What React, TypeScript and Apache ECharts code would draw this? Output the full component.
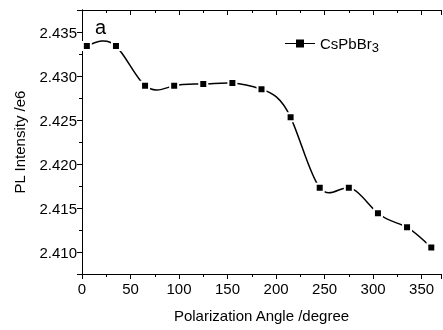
import React, { useEffect, useRef } from "react";
import * as echarts from "echarts";

const angles = [5, 35, 65, 95, 125, 155, 185, 215, 245, 275, 305, 335, 360];
const intensity = [2.4334, 2.4334, 2.4289, 2.4289, 2.4291, 2.4292, 2.4285, 2.4253, 2.4173, 2.4173, 2.4144, 2.4128, 2.4105];
const seriesName = "CsPbBr3";
const panelLabel = "a";
const xName = "Polarization Angle /degree";
const yName = "PL Intensity /e6";

const FONT = "Liberation Sans, Arial, sans-serif";

// natural cubic spline slopes in pixel space (rendering helper only)
function splineSlopes(xs: number[], ys: number[]): number[] {
  const n = xs.length;
  const h: number[] = [];
  for (let i = 0; i < n - 1; i++) h.push(xs[i + 1] - xs[i]);
  const M = new Array(n).fill(0);
  if (n > 2) {
    const a: number[] = [], b: number[] = [], c: number[] = [], d: number[] = [];
    for (let i = 1; i < n - 1; i++) {
      a.push(h[i - 1]);
      b.push(2 * (h[i - 1] + h[i]));
      c.push(h[i]);
      d.push(6 * ((ys[i + 1] - ys[i]) / h[i] - (ys[i] - ys[i - 1]) / h[i - 1]));
    }
    const m = b.length;
    for (let i = 1; i < m; i++) {
      const w = a[i] / b[i - 1];
      b[i] -= w * c[i - 1];
      d[i] -= w * d[i - 1];
    }
    const sol = new Array(m).fill(0);
    sol[m - 1] = d[m - 1] / b[m - 1];
    for (let i = m - 2; i >= 0; i--) sol[i] = (d[i] - c[i] * sol[i + 1]) / b[i];
    for (let i = 0; i < m; i++) M[i + 1] = sol[i];
  }
  const slopes: number[] = [];
  for (let i = 0; i < n; i++) {
    if (i < n - 1) slopes.push((ys[i + 1] - ys[i]) / h[i] - (h[i] * (2 * M[i] + M[i + 1])) / 6);
    else slopes.push((ys[i] - ys[i - 1]) / h[i - 1] + (h[i - 1] * (M[i - 1] + 2 * M[i])) / 6);
  }
  return slopes;
}

export default function App() {
  const ref = useRef<HTMLDivElement>(null);
  useEffect(() => {
    if (!ref.current) return;
    const chart = echarts.init(ref.current, undefined, { renderer: "svg" });
    const axisLine = { show: true, lineStyle: { color: "#000", width: 1 } };
    const xCommon = { type: "value" as const, min: 0, max: 370, interval: 50 };
    const n = angles.length;
    chart.setOption({
      animation: false,
      textStyle: { fontFamily: FONT },
      grid: { left: 82, right: 2, top: 10, bottom: 56 },
      legend: {
        data: [{ name: seriesName, icon: "path://M0,3.4h11v1.2h-11z M11,0h8v8h-8z M19,3.4h11v1.2h-11z" }],
        left: 280,
        top: 31,
        itemWidth: 30,
        itemHeight: 8,
        itemGap: 4,
        formatter: () => "CsPbBr{sub|3}",
        textStyle: {
          fontFamily: FONT,
          fontSize: 15,
          color: "#000",
          rich: { sub: { fontSize: 13, verticalAlign: "bottom", padding: [8, 0, 0, 0], fontFamily: FONT, color: "#000" } },
        },
      },
      graphic: [
        { type: "text", left: 95, top: 17, style: { text: panelLabel, fontSize: 20, fontFamily: FONT, fill: "#000" } },
      ],
      xAxis: [
        {
          ...xCommon,
          position: "bottom",
          name: xName,
          nameLocation: "middle",
          nameGap: 34,
          nameTextStyle: { fontSize: 15, color: "#000", fontFamily: FONT },
          axisLine,
          axisTick: { show: true, inside: false, length: 5, lineStyle: { color: "#000" } },
          minorTick: { show: true, splitNumber: 2, length: 3, lineStyle: { color: "#000" } },
          axisLabel: { fontSize: 15, color: "#000", margin: 7, fontFamily: FONT, showMaxLabel: false },
          splitLine: { show: false },
        },
        {
          ...xCommon,
          position: "top",
          axisLine,
          axisTick: { show: true, inside: true, length: 5, lineStyle: { color: "#000" } },
          minorTick: { show: true, splitNumber: 2, length: 3, lineStyle: { color: "#000" } },
          axisLabel: { show: false },
          splitLine: { show: false },
        },
      ],
      yAxis: [
        {
          type: "value",
          min: 2.4075,
          max: 2.4375,
          splitNumber: 6,
          position: "left",
          name: yName,
          nameLocation: "middle",
          nameGap: 55,
          nameTextStyle: { fontSize: 15, color: "#000", fontFamily: FONT },
          axisLine,
          axisTick: { show: true, inside: false, length: 5, lineStyle: { color: "#000" } },
          minorTick: { show: true, splitNumber: 2, length: 3, lineStyle: { color: "#000" } },
          axisLabel: {
            fontSize: 15,
            color: "#000",
            margin: 5,
            fontFamily: FONT,
            showMinLabel: false,
            showMaxLabel: false,
            formatter: (v: number) => v.toFixed(3),
          },
          splitLine: { show: false },
        },
        {
          type: "value",
          min: 2.4075,
          max: 2.4375,
          splitNumber: 6,
          position: "right",
          axisLine,
          axisTick: { show: true, inside: true, length: 5, lineStyle: { color: "#000" } },
          minorTick: { show: true, splitNumber: 2, length: 3, lineStyle: { color: "#000" } },
          axisLabel: { show: false },
          splitLine: { show: false },
        },
      ],
      series: [
        {
          name: seriesName,
          type: "custom",
          xAxisIndex: 0,
          yAxisIndex: 0,
          itemStyle: { color: "#000" },
          data: angles.map((a, i) => [a, intensity[i]]),
          encode: { x: 0, y: 1 },
          renderItem: (params: any, api: any) => {
            const i = params.dataIndex;
            const pts = angles.map((a, k) => api.coord([a, intensity[k]]));
            const xs = pts.map((p: number[]) => p[0]);
            const ys = pts.map((p: number[]) => p[1]);
            const sl = splineSlopes(xs, ys);
            const p1 = pts[i];
            const children: any[] = [];
            if (i < n - 1) {
              const p2 = pts[i + 1];
              const hh = (p2[0] - p1[0]) / 3;
              children.push({
                type: "bezierCurve",
                shape: {
                  x1: p1[0],
                  y1: p1[1],
                  cpx1: p1[0] + hh,
                  cpy1: p1[1] + sl[i] * hh,
                  cpx2: p2[0] - hh,
                  cpy2: p2[1] - sl[i + 1] * hh,
                  x2: p2[0],
                  y2: p2[1],
                },
                style: { stroke: "#000", lineWidth: 1.5, fill: null },
              });
            }
            children.push({
              type: "rect",
              shape: { x: p1[0] - 4, y: p1[1] - 4, width: 8, height: 8 },
              style: { fill: "#000", stroke: "#fff", lineWidth: 2 },
              z2: 10,
            });
            return { type: "group", children };
          },
        },
      ],
    });
    return () => chart.dispose();
  }, []);
  return <div ref={ref} style={{ width: 443, height: 330, position: "fixed", left: 0, top: 0 }} />;
}
